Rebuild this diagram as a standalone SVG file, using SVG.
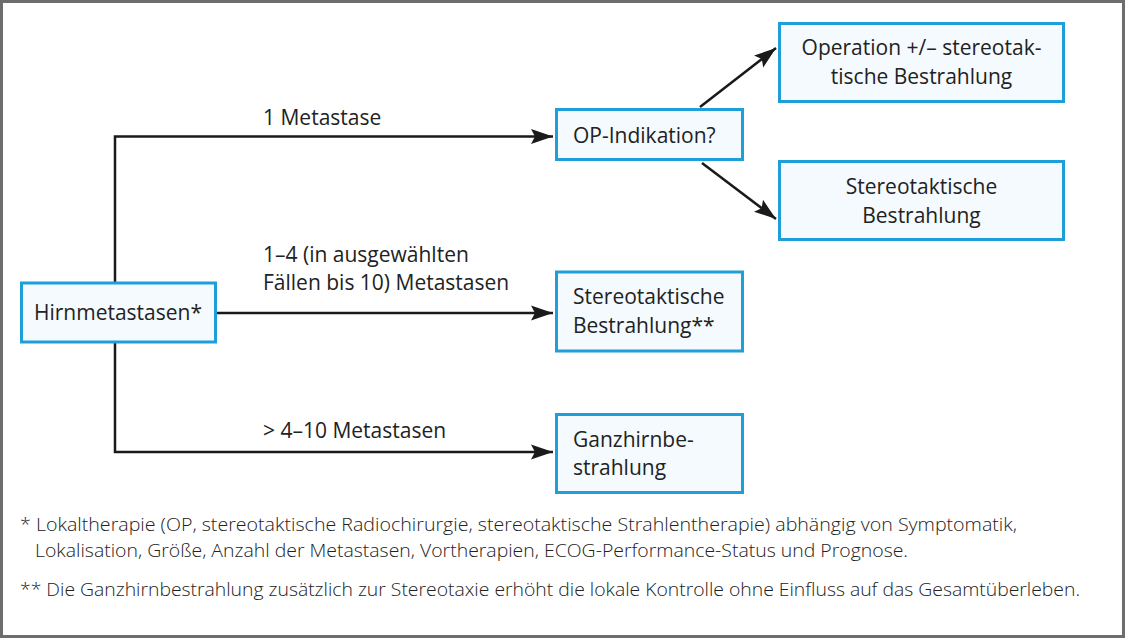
<svg xmlns="http://www.w3.org/2000/svg" width="1140" height="644" viewBox="0 0 1140 644">
<style>
.box{fill:#f4fafe;stroke:#1e9fd9;stroke-width:3}
.t{font-family:"Open Sans","Noto Sans",sans-serif;font-size:21px;fill:#222}
.c{text-anchor:middle}
.fn{font-family:"Open Sans","Noto Sans",sans-serif;font-weight:300;font-size:18px;fill:#222}
.ln{fill:none;stroke:#1a1a1a;stroke-width:2.5}
</style>
<defs>
<marker id="ah" markerUnits="userSpaceOnUse" markerWidth="22" markerHeight="16" refX="22" refY="8" orient="auto" viewBox="0 0 22 16">
<path d="M0,0.5 L22,8 L0,15.5 L4,8 z" fill="#1a1a1a"/>
</marker>
</defs>
<rect x="0" y="0" width="1140" height="644" fill="#fff"/>
<rect x="1.5" y="1.5" width="1122" height="635" fill="#fff" stroke="#6d6d6d" stroke-width="3"/>
<g id="connectors">
<path class="ln" d="M115,283 V136.5 H553" marker-end="url(#ah)"/>
<path class="ln" d="M216,313 H553" marker-end="url(#ah)"/>
<path class="ln" d="M115,342 V452 H553" marker-end="url(#ah)"/>
<path class="ln" d="M700,107 L776,48" marker-end="url(#ah)"/>
<path class="ln" d="M702,163 L776,219" marker-end="url(#ah)"/>
<text class="t" x="263" y="125">1 Metastase</text>
<text class="t" x="263" y="262">1–4 (in ausgewählten</text>
<text class="t" x="263" y="290">Fällen bis 10) Metastasen</text>
<text class="t" x="263" y="438">&gt; 4–10 Metastasen</text>
</g>
<g id="hirn">
<rect class="box" x="21.5" y="283" width="194" height="59"/>
<text class="t c" x="118" y="320">Hirnmetastasen*</text>
</g>
<g id="opind">
<rect class="box" x="556.5" y="109.5" width="186" height="50"/>
<text class="t" x="573" y="143">OP-Indikation?</text>
</g>
<g id="operation">
<rect class="box" x="779.5" y="23.5" width="284" height="78"/>
<text class="t c" x="921.5" y="55">Operation +/– stereotak-</text>
<text class="t c" x="921.5" y="84">tische Bestrahlung</text>
</g>
<g id="stereo1">
<rect class="box" x="779.5" y="161.5" width="284" height="78"/>
<text class="t c" x="921.5" y="194">Stereotaktische</text>
<text class="t c" x="921.5" y="223">Bestrahlung</text>
</g>
<g id="stereo2">
<rect class="box" x="556.5" y="272" width="186" height="79"/>
<text class="t" x="573" y="304">Stereotaktische</text>
<text class="t" x="573" y="333">Bestrahlung**</text>
</g>
<g id="ganz">
<rect class="box" x="556.5" y="414.5" width="186" height="78"/>
<text class="t" x="573" y="447">Ganzhirnbe-</text>
<text class="t" x="573" y="475">strahlung</text>
</g>
<g id="footnotes">
<text class="fn" x="20" y="531" textLength="997" lengthAdjust="spacingAndGlyphs">* Lokaltherapie (OP, stereotaktische Radiochirurgie, stereotaktische Strahlentherapie) abhängig von Symptomatik,</text>
<text class="fn" x="35" y="557" textLength="873" lengthAdjust="spacingAndGlyphs">Lokalisation, Größe, Anzahl der Metastasen, Vortherapien, ECOG-Performance-Status und Prognose.</text>
<text class="fn" x="20" y="596" textLength="1060" lengthAdjust="spacingAndGlyphs">** Die Ganzhirnbestrahlung zusätzlich zur Stereotaxie erhöht die lokale Kontrolle ohne Einfluss auf das Gesamtüberleben.</text>
</g>
</svg>
